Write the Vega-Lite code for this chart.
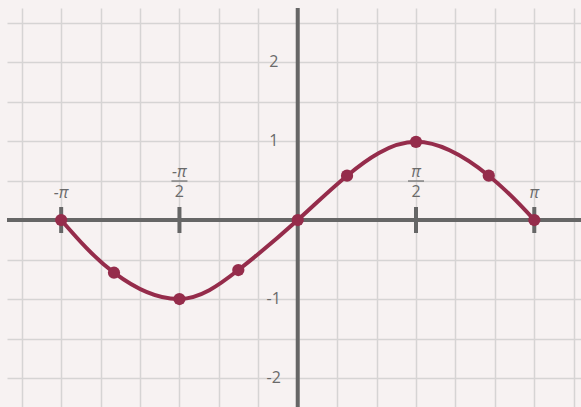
{
  "$schema": "https://vega.github.io/schema/vega-lite/v6.json",
  "width": 574,
  "height": 399,
  "autosize": {"type": "none"},
  "padding": {"left": 7, "top": 8, "right": 0, "bottom": 0},
  "background": "#f7f2f2",
  "config": {
    "view": {"stroke": null},
    "font": "Open Sans",
    "text": {"font": "Open Sans", "fontSize": 16, "color": "#6a6a6a"}
  },
  "datasets": {
    "curve": [
      {"x": -3.1416, "y": 0},
      {"x": -2.44, "y": -0.667},
      {"x": -1.5708, "y": -1.0},
      {"x": -0.789, "y": -0.633},
      {"x": 0, "y": 0},
      {"x": 0.655, "y": 0.561},
      {"x": 1.5708, "y": 0.99},
      {"x": 2.537, "y": 0.561},
      {"x": 3.1416, "y": 0}
    ],
    "piTicks": [
      {"x": -3.1416},
      {"x": -1.5708},
      {"x": 1.5708},
      {"x": 3.1416}
    ],
    "piLabels": [
      {"x": -3.1416, "label": "-π"},
      {"x": 3.1416, "label": "π"}
    ],
    "piFractions": [
      {"x": -1.5708, "num": "-π", "den": "2"},
      {"x": 1.5708, "num": "π", "den": "2"}
    ],
    "yLabels": [
      {"y": 2, "label": "2"},
      {"y": 1, "label": "1"},
      {"y": -1, "label": "-1"},
      {"y": -2, "label": "-2"}
    ]
  },
  "layer": [
    {
      "data": {"name": "curve"},
      "mark": {"type": "line", "interpolate": "natural", "color": "#952c4b", "strokeWidth": 4},
      "encoding": {
        "x": {
          "field": "x",
          "type": "quantitative",
          "scale": {"domain": [-3.861, 3.762], "nice": false, "zero": false},
          "axis": {
            "values": [-3.6652, -3.1416, -2.618, -2.0944, -1.5708, -1.0472, -0.5236, 0, 0.5236, 1.0472, 1.5708, 2.0944, 2.618, 3.1416, 3.6652],
            "grid": true, "gridColor": "#d6d4d4", "gridWidth": 1.5, "gridOpacity": 1,
            "labels": false, "ticks": false, "domain": false, "title": null
          }
        },
        "y": {
          "field": "y",
          "type": "quantitative",
          "scale": {"domain": [-2.367, 2.684], "nice": false, "zero": false},
          "axis": {
            "values": [-2, -1.5, -1, -0.5, 0, 0.5, 1, 1.5, 2, 2.5],
            "grid": true, "gridColor": "#d6d4d4", "gridWidth": 1.5, "gridOpacity": 1,
            "labels": false, "ticks": false, "domain": false, "title": null
          }
        }
      }
    },
    {
      "data": {"values": [{}]},
      "mark": {"type": "rule", "color": "#666666", "strokeWidth": 4},
      "encoding": {"y": {"datum": 0, "type": "quantitative"}}
    },
    {
      "data": {"values": [{}]},
      "mark": {"type": "rule", "color": "#666666", "strokeWidth": 4},
      "encoding": {"x": {"datum": 0, "type": "quantitative"}}
    },
    {
      "data": {"name": "piTicks"},
      "mark": {"type": "tick", "orient": "vertical", "size": 26, "thickness": 4, "color": "#666666", "opacity": 1},
      "encoding": {
        "x": {"field": "x", "type": "quantitative"},
        "y": {"datum": 0, "type": "quantitative"}
      }
    },
    {
      "data": {"name": "piLabels"},
      "mark": {"type": "text", "align": "center", "baseline": "alphabetic", "dy": -22, "fontStyle": "italic"},
      "encoding": {
        "x": {"field": "x", "type": "quantitative"},
        "y": {"datum": 0, "type": "quantitative"},
        "text": {"field": "label"}
      }
    },
    {
      "data": {"name": "piFractions"},
      "mark": {"type": "text", "align": "center", "baseline": "alphabetic", "dy": -43, "fontStyle": "italic"},
      "encoding": {
        "x": {"field": "x", "type": "quantitative"},
        "y": {"datum": 0, "type": "quantitative"},
        "text": {"field": "num"}
      }
    },
    {
      "data": {"name": "piFractions"},
      "mark": {"type": "tick", "orient": "horizontal", "size": 16, "thickness": 1.2, "color": "#6a6a6a", "opacity": 1, "yOffset": -39},
      "encoding": {
        "x": {"field": "x", "type": "quantitative"},
        "y": {"datum": 0, "type": "quantitative"}
      }
    },
    {
      "data": {"name": "piFractions"},
      "mark": {"type": "text", "align": "center", "baseline": "alphabetic", "dy": -23},
      "encoding": {
        "x": {"field": "x", "type": "quantitative"},
        "y": {"datum": 0, "type": "quantitative"},
        "text": {"field": "den"}
      }
    },
    {
      "data": {"name": "yLabels"},
      "mark": {"type": "text", "align": "center", "baseline": "middle", "dx": -24},
      "encoding": {
        "x": {"datum": 0, "type": "quantitative"},
        "y": {"field": "y", "type": "quantitative"},
        "text": {"field": "label"}
      }
    },
    {
      "data": {"name": "curve"},
      "mark": {"type": "circle", "color": "#952c4b", "size": 150, "opacity": 1},
      "encoding": {
        "x": {"field": "x", "type": "quantitative"},
        "y": {"field": "y", "type": "quantitative"}
      }
    }
  ]
}
